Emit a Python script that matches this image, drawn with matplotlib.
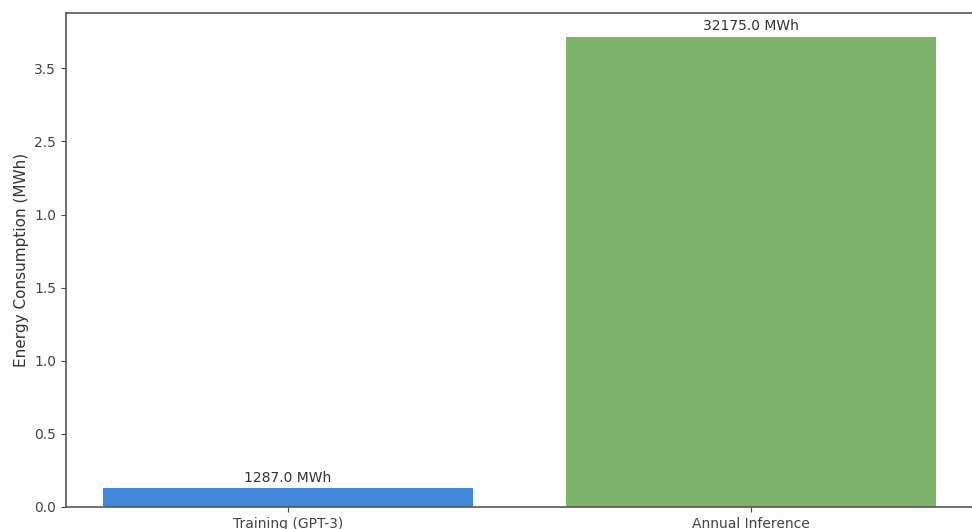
import matplotlib.pyplot as plt

categories = ["Training (GPT-3)", "Annual Inference"]
energy_mwh = [1287.0, 32175.0]
bar_colors = ["#4288d9", "#7db36b"]
ytick_values = [0, 5000, 10000, 15000, 20000, 25000, 30000]
ytick_labels = ["0.0", "0.5", "1.0", "1.5", "1.0", "2.5", "3.5"]

fig = plt.figure(figsize=(9.72, 5.29), dpi=100)
fig.patch.set_facecolor("#fdfdfd")
ax = fig.add_axes([66 / 972, 22 / 529, 925 / 972, 494 / 529])
ax.set_facecolor("#fdfdfd")

bars = ax.bar(categories, energy_mwh, color=bar_colors, width=0.8)
for b, v in zip(bars, energy_mwh):
    ax.text(b.get_x() + b.get_width() / 2, v + 250, f"{v} MWh",
            ha="center", va="bottom", fontsize=10, color="#333333")

ax.set_xlim(-0.48, 1.52)
ax.set_yticks(ytick_values)
ax.set_yticklabels(ytick_labels)
ax.set_ylabel("Energy Consumption (MWh)", fontsize=11, color="#333333")
ax.tick_params(colors="#444444", labelsize=10)
for s in ax.spines.values():
    s.set_color("#555555")
    s.set_linewidth(1.2)

fig.savefig("out.png", dpi=100, facecolor=fig.get_facecolor())
